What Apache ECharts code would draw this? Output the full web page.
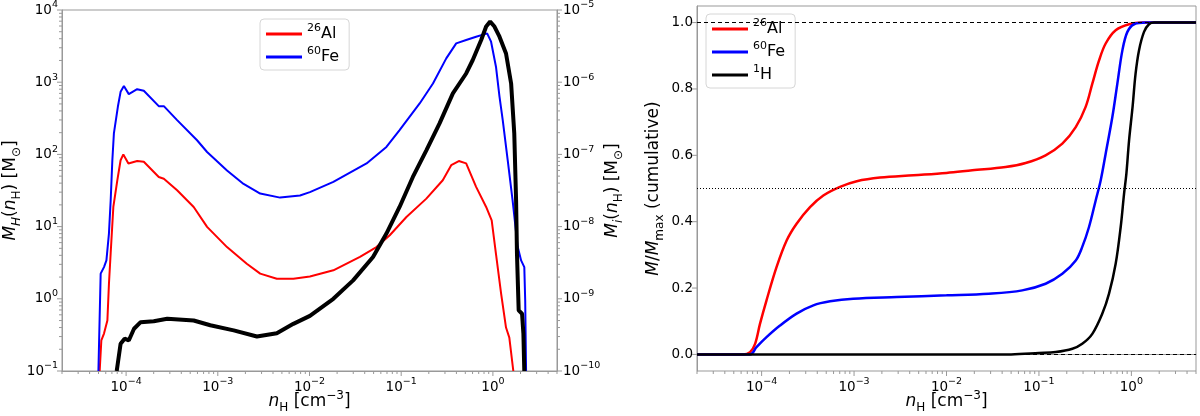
<!DOCTYPE html>
<html>
<head>
<meta charset="utf-8">
<script src="https://cdn.jsdelivr.net/npm/echarts@6/dist/echarts.min.js"></script>
<style>
html, body { margin: 0; background: #fff; }
#main { width: 1200px; height: 416px; }
</style>
</head>
<body>
<div id="main"></div>
<script>
// density range shared by both panels [cm^-3]
var nMin = 2e-5, nMax = 5;

// left panel: mass per density bin, [n_H, M] (26Al, 60Fe on the left axis)
var alMass = [[5.15e-5, 0.1], [5.37e-5, 0.265], [5.74e-5, 0.33], [6.25e-5, 0.5], [6.5e-5, 1.6], [6.79e-5, 4.3],
    [7.26e-5, 18.7], [8.02e-5, 43.6], [8.71e-5, 83], [9.33e-5, 100], [1.06e-4, 75], [1.32e-4, 81], [1.56e-4, 79],
    [2.27e-4, 48.7], [2.58e-4, 46], [3.6e-4, 31.8], [5.46e-4, 18.7], [7.64e-4, 9.9], [1.26e-3, 5.2], [2.07e-3, 3.06],
    [2.9e-3, 2.23], [4.4e-3, 1.9], [6.67e-3, 1.9], [1.01e-2, 2.04], [1.82e-2, 2.48], [3.55e-2, 3.8], [5.37e-2, 5.2],
    [7.5e-2, 7.6], [0.114, 13.6], [0.188, 24.4], [0.284, 43.8], [0.351, 71], [0.425, 81], [0.511, 75], [0.656, 35.5],
    [0.844, 18.7], [0.97, 12.2], [1.08, 4.2], [1.23, 1.17], [1.39, 0.4], [1.51, 0.29], [1.67, 0.1]];

var feMass = [[4.99e-5, 0.1], [5.28e-5, 2.23], [5.74e-5, 2.75], [6.1e-5, 3.4], [6.5e-5, 8], [6.79e-5, 23],
    [7.08e-5, 83], [7.36e-5, 195], [8.14e-5, 460], [8.71e-5, 736], [9.46e-5, 883], [1.07e-4, 684], [1.32e-4, 801],
    [1.56e-4, 760], [2.27e-4, 466], [2.58e-4, 466], [3.6e-4, 298], [5.94e-4, 157], [7.64e-4, 108], [1.26e-3, 60],
    [1.91e-3, 39], [2.9e-3, 28.7], [4.78e-3, 25.2], [7.88e-3, 27], [1.01e-2, 30], [1.82e-2, 41.6], [4.19e-2, 75],
    [6.9e-2, 127], [9.6e-2, 217], [0.159, 508], [0.222, 961], [0.31, 2140], [0.398, 3450], [0.511, 3840],
    [0.656, 4270], [0.865, 4750], [0.955, 3640], [1.08, 1640], [1.18, 630], [1.28, 298], [1.45, 83], [1.64, 23],
    [1.86, 5.3], [2.03, 3.4], [2.2, 2.75], [2.25, 0.95], [2.3, 0.1]];

// 1H on the right axis [Msun]
var hMass = [[7.9e-5, 1e-10], [8.71e-5, 2.38e-10], [9.63e-5, 2.8e-10], [1.07e-4, 2.65e-10], [1.22e-4, 3.85e-10],
    [1.44e-4, 4.75e-10], [2.0e-4, 4.9e-10], [2.81e-4, 5.3e-10], [5.46e-4, 5.0e-10], [8.28e-4, 4.3e-10],
    [1.49e-3, 3.65e-10], [2.67e-3, 3.0e-10], [4.4e-3, 3.34e-10], [6.67e-3, 4.5e-10], [1.01e-2, 5.8e-10],
    [1.82e-2, 1.0e-9], [2.99e-2, 1.8e-9], [4.93e-2, 3.8e-9], [6.9e-2, 8e-9], [9.6e-2, 1.87e-8], [0.134, 4.87e-8],
    [0.188, 1.14e-7], [0.262, 2.69e-7], [0.366, 7.0e-7], [0.511, 1.32e-6], [0.603, 2.03e-6], [0.745, 3.84e-6],
    [0.844, 5.9e-6], [0.933, 6.9e-6], [1.04, 5.9e-6], [1.18, 4.27e-6], [1.39, 2.5e-6], [1.58, 9.6e-7],
    [1.71, 1.95e-7], [1.79, 2.3e-8], [1.83, 4.2e-9], [1.91, 6.9e-10], [2.08, 6.2e-10], [2.15, 3.3e-10], [2.2, 1e-10]];

// right panel: cumulative fractions, [n_H, M/Mmax]
var alCum = [[2e-5, 0], [6.3e-5, 0], [7.5e-5, 0.007], [8.5e-5, 0.032], [9.6e-5, 0.092], [1.13e-4, 0.163],
    [1.45e-4, 0.263], [1.87e-4, 0.344], [2.39e-4, 0.394], [3.34e-4, 0.444], [4.65e-4, 0.479], [7.05e-4, 0.505],
    [1.07e-3, 0.522], [1.91e-3, 0.533], [4.4e-3, 0.54], [1.0e-2, 0.547], [1.9e-2, 0.555], [4.36e-2, 0.565],
    [7.18e-2, 0.577], [0.118, 0.6], [0.179, 0.635], [0.25, 0.685], [0.32, 0.746], [0.378, 0.816], [0.447, 0.886],
    [0.527, 0.937], [0.676, 0.977], [0.944, 0.995], [1.32, 1.0], [5, 1.0]];

var feCum = [[2e-5, 0], [7.5e-5, 0], [8.8e-5, 0.022], [1.13e-4, 0.052], [1.58e-4, 0.087], [2.39e-4, 0.123],
    [3.63e-4, 0.148], [5.5e-4, 0.16], [9.8e-4, 0.168], [2.9e-3, 0.173], [1.0e-2, 0.178], [2.87e-2, 0.183],
    [6.6e-2, 0.193], [0.118, 0.213], [0.179, 0.243], [0.25, 0.283], [0.294, 0.324], [0.348, 0.384], [0.411, 0.464],
    [0.466, 0.525], [0.527, 0.605], [0.623, 0.716], [0.705, 0.816], [0.8, 0.917], [0.905, 0.972], [1.07, 0.995],
    [1.43, 1.0], [5, 1.0]];

var hCum = [[2e-5, 0], [0.05, 0], [0.1, 0.004], [0.152, 0.007], [0.23, 0.017], [0.294, 0.032], [0.378, 0.062],
    [0.485, 0.123], [0.573, 0.183], [0.676, 0.273], [0.766, 0.384], [0.833, 0.484], [0.883, 0.545], [0.944, 0.645],
    [1.03, 0.746], [1.11, 0.846], [1.21, 0.917], [1.37, 0.972], [1.55, 0.995], [1.76, 1.0], [5, 1.0]];

// tick values
var massTickExp = [-1, 0, 1, 2, 3, 4];
var hTickExp = [-10, -9, -8, -7, -6, -5];
var nTickExp = [-5, -4, -3, -2, -1, 0];
var cumTicks = [0, 0.2, 0.4, 0.6, 0.8, 1.0];
var refLines = [0, 0.5, 1];

var FONT = 'DejaVu Sans';
var AXIS_GREY = '#999';

var tickRich = {
    n: { fontFamily: FONT, fontSize: 13.5, color: '#000', lineHeight: 20, verticalAlign: 'middle' },
    sup: { fontFamily: FONT, fontSize: 9.5, color: '#000', lineHeight: 10, verticalAlign: 'top' }
};
var nameRich = {
    n: { fontFamily: FONT, fontSize: 17, color: '#000', lineHeight: 24, verticalAlign: 'middle' },
    it: { fontFamily: FONT, fontSize: 17, color: '#000', lineHeight: 24, verticalAlign: 'middle', fontStyle: 'italic' },
    sub: { fontFamily: FONT, fontSize: 12, color: '#000', lineHeight: 10, verticalAlign: 'bottom' },
    subi: { fontFamily: FONT, fontSize: 12, color: '#000', lineHeight: 10, verticalAlign: 'bottom', fontStyle: 'italic' },
    sup: { fontFamily: FONT, fontSize: 12, color: '#000', lineHeight: 10, verticalAlign: 'top' }
};
var legendRich = {
    n: { fontFamily: FONT, fontSize: 16, color: '#000', lineHeight: 22, verticalAlign: 'middle' },
    sup: { fontFamily: FONT, fontSize: 11, color: '#000', lineHeight: 10, verticalAlign: 'top' }
};

function minus(s) {
    return String(s).replace('-', '\u2212');
}

// only label the decades, the scale edges stay blank
function powLabel(v) {
    var e = Math.log10(v);
    var r = Math.round(e);
    if (Math.abs(e - r) > 1e-6) return '';
    return '{n|10}{sup|' + minus(r) + '}';
}

function cumLabel(v) {
    var k = Math.round(v / 0.2);
    if (Math.abs(v - k * 0.2) > 1e-6) return '';
    return (k * 0.2).toFixed(1);
}

var legendNames = { Al26: ['26', 'Al'], Fe60: ['60', 'Fe'], H1: ['1', 'H'] };
function legendText(name) {
    var p = legendNames[name];
    return '{sup|' + p[0] + '}{n|' + p[1] + '}';
}

// tick marks: [x, y, side(0 bottom, 1 left, 2 right), major]
function decadeTicks(exps, lo, hi, make) {
    var out = [];
    for (var i = 0; i < exps.length; i++) {
        for (var k = 1; k <= 9; k++) {
            var v = k * Math.pow(10, exps[i]);
            if (v < lo * 0.9999 || v > hi * 1.0001) continue;
            out.push(make(v, k === 1 ? 1 : 0));
        }
    }
    return out;
}

var leftTicks = decadeTicks(nTickExp, nMin, nMax, function (v, m) { return [v, 0.1, 0, m]; })
    .concat(decadeTicks(massTickExp, 0.1, 1e4, function (v, m) { return [nMin, v, 1, m]; }));
var rightAxisTicks = decadeTicks(hTickExp, 1e-10, 1e-5, function (v, m) { return [nMax, v, 2, m]; });
var cumPanelTicks = decadeTicks(nTickExp, nMin, nMax, function (v, m) { return [v, -0.05, 0, m]; })
    .concat(cumTicks.map(function (v) { return [nMin, v, 1, 1]; }));

function tickSeries(xi, yi, items) {
    return {
        type: 'custom',
        xAxisIndex: xi,
        yAxisIndex: yi,
        silent: true,
        clip: false,
        z: 10,
        data: items,
        renderItem: function (params, api) {
            var p = api.coord([api.value(0), api.value(1)]);
            var side = api.value(2);
            var len = api.value(3) ? 5 : 3;
            var dx = 0, dy = 0;
            if (side === 0) dy = len;
            else if (side === 1) dx = -len;
            else dx = len;
            return {
                type: 'line',
                shape: { x1: p[0], y1: p[1], x2: p[0] + dx, y2: p[1] + dy },
                style: { stroke: AXIS_GREY, lineWidth: 1 }
            };
        }
    };
}

function logAxis(grid, min, max, pos) {
    return {
        type: 'log', logBase: 10, gridIndex: grid, min: min, max: max, position: pos,
        axisLine: { show: true, lineStyle: { color: AXIS_GREY, width: 1 } },
        axisTick: { show: false },
        splitLine: { show: false },
        nameMoveOverlap: false,
        axisLabel: { formatter: powLabel, rich: tickRich, margin: 6 }
    };
}

var nName = '{it|n}{sub|H}{n| [cm}{sup|\u22123}{n|]}';

var xLeft = logAxis(0, nMin, nMax, 'bottom');
xLeft.name = nName; xLeft.nameLocation = 'middle'; xLeft.nameGap = 19;
xLeft.nameTextStyle = { rich: nameRich };

var xRight = logAxis(1, nMin, nMax, 'bottom');
xRight.name = nName; xRight.nameLocation = 'middle'; xRight.nameGap = 19;
xRight.nameTextStyle = { rich: nameRich };

var yMass = logAxis(0, 0.1, 1e4, 'left');
yMass.axisLabel.margin = 4;
yMass.name = '{it|M}{subi|H}{n|(}{it|n}{sub|H}{n|) [M}{sub|\u2299}{n|]}';
yMass.nameLocation = 'middle'; yMass.nameRotate = 90; yMass.nameGap = 39;
yMass.nameTextStyle = { rich: nameRich };

var yH = logAxis(0, 1e-10, 1e-5, 'right');
yH.name = '{it|M}{subi|i}{n|(}{it|n}{sub|H}{n|) [M}{sub|\u2299}{n|]}';
yH.nameLocation = 'middle'; yH.nameRotate = 90; yH.nameGap = 44;
yH.nameTextStyle = { rich: nameRich };

var yCum = {
    type: 'value', gridIndex: 1, min: -0.05, max: 1.05, position: 'left',
    axisLine: { show: true, lineStyle: { color: AXIS_GREY, width: 1 } },
    axisTick: { show: false },
    splitLine: { show: false },
    nameMoveOverlap: false,
    axisLabel: { formatter: cumLabel, fontFamily: FONT, fontSize: 13.5, color: '#000', margin: 4 },
    name: '{it|M}{n|/}{it|M}{sub|max}{n| (cumulative)}',
    nameLocation: 'middle', nameRotate: 90, nameGap: 31,
    nameTextStyle: { rich: nameRich }
};

function lineSeries(name, xi, yi, data, color, width, z, smooth) {
    return {
        name: name, type: 'line', xAxisIndex: xi, yAxisIndex: yi, data: data,
        symbol: 'none', showSymbol: false, smooth: smooth,
        lineStyle: { color: color, width: width }, itemStyle: { color: color },
        z: z, silent: true
    };
}

var cumAl = lineSeries('Al26', 1, 2, alCum, '#ff0000', 2.5, 3, 0.35);
cumAl.markLine = {
    silent: true, symbol: 'none', label: { show: false }, animation: false,
    data: refLines.map(function (v) {
        return { yAxis: v, lineStyle: { color: '#000', width: 1, type: v === 0.5 ? [1, 2] : [4, 3] } };
    })
};

function legendBox(names, left, top) {
    return {
        data: names, orient: 'vertical', left: left, top: top,
        icon: 'rect', itemWidth: 36, itemHeight: 3, itemGap: 4, itemTextGap: 14,
        padding: [4, 10, 5, 6], borderColor: '#d6d6d6', borderWidth: 1, borderRadius: 4,
        backgroundColor: 'rgba(255,255,255,0.85)', selectedMode: false,
        formatter: legendText, textStyle: { rich: legendRich }
    };
}

var chart = echarts.init(document.getElementById('main'));
chart.setOption({
    animation: false,
    backgroundColor: '#fff',
    grid: [
        { left: 62, top: 10, width: 495, height: 361, show: true, borderColor: AXIS_GREY, borderWidth: 1,
          outerBoundsMode: 'none', containLabel: false },
        { left: 697, top: 6, width: 499, height: 365, show: true, borderColor: AXIS_GREY, borderWidth: 1,
          outerBoundsMode: 'none', containLabel: false }
    ],
    legend: [
        legendBox(['Al26', 'Fe60'], 260, 19),
        legendBox(['Al26', 'Fe60', 'H1'], 706, 14)
    ],
    xAxis: [xLeft, xRight],
    yAxis: [yMass, yH, yCum],
    series: [
        lineSeries('Al26', 0, 0, alMass, '#ff0000', 2, 3, false),
        lineSeries('Fe60', 0, 0, feMass, '#0000ff', 2, 4, false),
        lineSeries('H1', 0, 1, hMass, '#000000', 4, 5, false),
        cumAl,
        lineSeries('Fe60', 1, 2, feCum, '#0000ff', 2.5, 4, 0.35),
        lineSeries('H1', 1, 2, hCum, '#000000', 2.5, 5, 0.35),
        tickSeries(0, 0, leftTicks),
        tickSeries(0, 1, rightAxisTicks),
        tickSeries(1, 2, cumPanelTicks)
    ]
});
</script>
</body>
</html>
